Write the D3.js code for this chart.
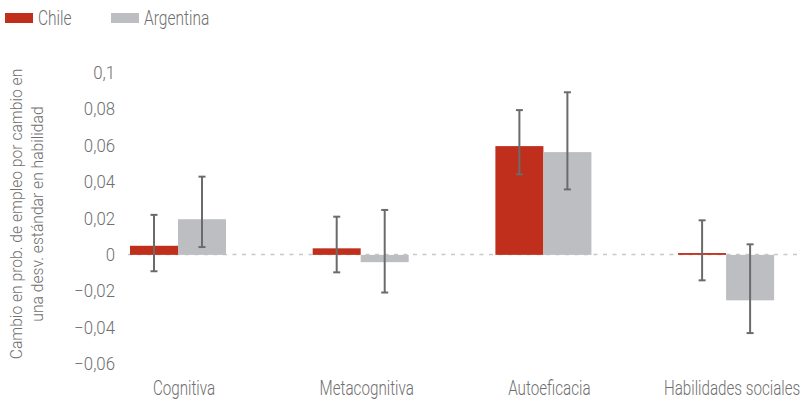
<!DOCTYPE html>
<html>
<head>
<meta charset="utf-8">
<script src="https://cdn.jsdelivr.net/npm/d3@7"></script>
<style>
  html, body { margin: 0; padding: 0; background: #fff; }
  svg { display: block; }
  text { font-family: "Roboto", "DejaVu Sans Condensed", sans-serif; font-weight: 300; fill: #6f6f6f; }
</style>
</head>
<body>
<script>
const categories = ["Cognitiva", "Metacognitiva", "Autoeficacia", "Habilidades sociales"];
const seriesNames = ["Chile", "Argentina"];
const chileValues = [0.005, 0.0036, 0.0598, 0.001];
const chileLow = [-0.009, -0.0096, 0.0443, -0.014];
const chileHigh = [0.022, 0.021, 0.0796, 0.019];
const argentinaValues = [0.0196, -0.004, 0.0565, -0.025];
const argentinaLow = [0.0043, -0.0207, 0.036, -0.043];
const argentinaHigh = [0.043, 0.0247, 0.0894, 0.0058];
const yTicks = [-0.06, -0.04, -0.02, 0, 0.02, 0.04, 0.06, 0.08, 0.1];
const yTickLabels = ["−0,06", "−0,04", "−0,02", "0", "0,02", "0,04", "0,06", "0,08", "0,1"];
const yTitleLines = ["Cambio en prob. de empleo por cambio en", "una desv. estándar en habilidad"];

const colors = { Chile: "#c02e1c", Argentina: "#bdbec2" };

const W = 800, H = 405;
const svg = d3.select("body").append("svg").attr("width", W).attr("height", H);

const y = d3.scaleLinear().domain([-0.06, 0.1]).range([364, 73]);
const x = d3.scaleBand().domain(categories).range([86.65, 817.45]).paddingInner(0.4745).paddingOuter(0.4745 / 2);
const xs = d3.scaleBand().domain(seriesNames).range([0, x.bandwidth()]).padding(0);

// horizontal condensing of text (reference uses a condensed face)
function condense(sel, k) {
  sel.each(function () {
    const t = d3.select(this);
    const xv = +t.attr("x") || 0;
    t.attr("x", xv / k).attr("transform", (t.attr("transform") || "") + ` scale(${k},1)`);
  });
}

const data = categories.map((c, i) => ({
  cat: c,
  series: [
    { name: "Chile", v: chileValues[i], lo: chileLow[i], hi: chileHigh[i] },
    { name: "Argentina", v: argentinaValues[i], lo: argentinaLow[i], hi: argentinaHigh[i] }
  ]
}));

// zero dashed line
svg.append("line")
  .attr("x1", x(categories[0]) - 2).attr("x2", 798)
  .attr("y1", y(0) - 0.5).attr("y2", y(0) - 0.5)
  .attr("stroke", "#c8c8c8").attr("stroke-width", 1.5)
  .attr("stroke-dasharray", "4,5.5");

// y axis labels
const yAxis = d3.axisLeft(y).tickValues(yTicks).tickFormat((d, i) => yTickLabels[i]).tickSize(0).tickPadding(0);
const yg = svg.append("g").attr("transform", "translate(115,0)").call(yAxis);
yg.select(".domain").remove();
yg.selectAll("text").attr("font-size", 17.5).attr("fill", null).style("font-family", null);
condense(yg.selectAll("text"), 0.96);

// bars
const groups = svg.selectAll("g.cat").data(data).enter().append("g")
  .attr("class", "cat").attr("transform", d => `translate(${x(d.cat)},0)`);

groups.selectAll("rect").data(d => d.series).enter().append("rect")
  .attr("x", d => xs(d.name))
  .attr("width", xs.bandwidth())
  .attr("y", d => Math.min(y(d.v), y(0)))
  .attr("height", d => Math.max(Math.abs(y(d.v) - y(0)), 1.5))
  .attr("fill", d => colors[d.name]);

// error bars
const eb = groups.selectAll("g.eb").data(d => d.series).enter().append("g").attr("class", "eb");
eb.append("line")
  .attr("x1", d => xs(d.name) + xs.bandwidth() / 2)
  .attr("x2", d => xs(d.name) + xs.bandwidth() / 2)
  .attr("y1", d => y(d.hi)).attr("y2", d => y(d.lo))
  .attr("stroke", "#6b6b6b").attr("stroke-width", 2);
eb.selectAll("line.cap").data(d => [{ n: d.name, v: d.hi }, { n: d.name, v: d.lo }]).enter().append("line")
  .attr("class", "cap")
  .attr("x1", d => xs(d.n) + xs.bandwidth() / 2 - 3.5)
  .attr("x2", d => xs(d.n) + xs.bandwidth() / 2 + 3.5)
  .attr("y1", d => y(d.v)).attr("y2", d => y(d.v))
  .attr("stroke", "#6b6b6b").attr("stroke-width", 2);

// x axis labels
const xAxis = d3.axisBottom(x).tickSize(0).tickPadding(0);
const xg = svg.append("g").attr("transform", "translate(6,380)").call(xAxis);
xg.select(".domain").remove();
xg.selectAll("text").attr("font-size", 20).attr("fill", null).attr("dy", "0.75em").style("font-family", null);
condense(xg.selectAll("text"), 0.76);

// y title
const yt = svg.append("text")
  .attr("transform", "translate(0,214) rotate(-90) scale(0.95,1)")
  .attr("text-anchor", "middle").attr("font-size", 16.5);
yt.selectAll("tspan").data(yTitleLines).enter().append("tspan")
  .attr("x", 0).attr("y", (d, i) => 22 + i * 21).text(d => d);

// legend
const legend = svg.append("g");
const legendX = [5, 111];
seriesNames.forEach((s, i) => {
  legend.append("rect").attr("x", legendX[i]).attr("y", 13).attr("width", 28).attr("height", 10).attr("fill", colors[s]);
  legend.append("text").attr("transform", `translate(${legendX[i] + 33},25) scale(0.74,1)`)
    .attr("font-size", 21).text(s);
});
</script>
</body>
</html>
